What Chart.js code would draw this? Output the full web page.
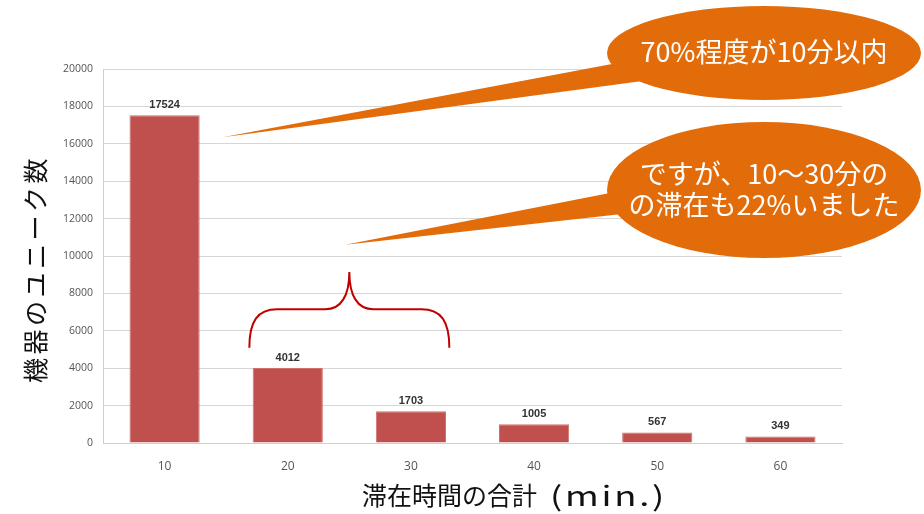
<!DOCTYPE html>
<html>
<head>
<meta charset="utf-8">
<script src="https://cdn.jsdelivr.net/npm/chart.js@4"></script>
<style>
  body { margin: 0; background: #fff; }
</style>
</head>
<body>
<canvas id="myChart" width="924" height="514"></canvas>
<script>
// data
var minutes = ["10", "20", "30", "40", "50", "60"];
var device_counts = [17524, 4012, 1703, 1005, 567, 349];
var y_ticks = [0, 2000, 4000, 6000, 8000, 10000, 12000, 14000, 16000, 18000, 20000];

var y_title = "機器のユニーク数";
var x_title = ["滞在時間の合計", "(min.)"];
var note_top = ["70%程度が10分以内"];
var note_mid = ["ですが、10～30分の", "の滞在も22%いました"];

var jp_font = "'Noto Sans CJK JP', 'Noto Sans', sans-serif";
var orange = "#E36C0A";

// numbers above the bars
var barLabels = {
  id: "barLabels",
  afterDatasetsDraw: function (chart) {
    var ctx = chart.ctx;
    var meta = chart.getDatasetMeta(0);
    ctx.save();
    ctx.font = "bold 11px 'Liberation Sans', Arial, sans-serif";
    ctx.fillStyle = "#333";
    ctx.textAlign = "center";
    ctx.textBaseline = "alphabetic";
    meta.data.forEach(function (bar, i) {
      ctx.fillText(device_counts[i], bar.x, bar.y - 7);
    });
    ctx.restore();
  },
};

// the big axis titles
var axisTitles = {
  id: "axisTitles",
  afterDraw: function (chart) {
    var ctx = chart.ctx;
    ctx.save();
    ctx.fillStyle = "#111";
    ctx.textAlign = "center";
    ctx.textBaseline = "middle";
    ctx.font = "25px " + jp_font;
    ctx.letterSpacing = "3.5px";
    ctx.translate(35, 269);
    ctx.rotate(-Math.PI / 2);
    ctx.fillText(y_title, 0, 0);
    ctx.restore();

    // x title: japanese part then the unit, whose latin is set wide
    ctx.save();
    ctx.fillStyle = "#111";
    ctx.textAlign = "left";
    ctx.textBaseline = "middle";
    ctx.font = "25px " + jp_font;
    ctx.fillText(x_title[0], 362, 495);
    ctx.font = "27px " + jp_font;
    ctx.letterSpacing = "2px";
    ctx.translate(550, 496);
    ctx.scale(1.35, 1);
    ctx.fillText(x_title[1], 0, 0);
    ctx.restore();
  },
};

function bubble(ctx, cx, cy, rx, ry, b1, b2, tip, lines, size) {
  ctx.save();
  ctx.fillStyle = orange;
  ctx.beginPath();
  ctx.ellipse(cx, cy, rx, ry, 0, 0, Math.PI * 2);
  ctx.fill();
  ctx.beginPath();
  ctx.moveTo(b1[0], b1[1]);
  ctx.lineTo(tip[0], tip[1]);
  ctx.lineTo(b2[0], b2[1]);
  ctx.closePath();
  ctx.fill();
  ctx.fillStyle = "#fff";
  ctx.font = size + "px " + jp_font;
  ctx.textAlign = "center";
  ctx.textBaseline = "middle";
  var lh = 31;
  var y0 = cy - 1 - (lines.length - 1) * lh / 2;
  lines.forEach(function (t, i) {
    ctx.fillText(t, cx, y0 + i * lh);
  });
  ctx.restore();
}

// callouts and brace
var notes = {
  id: "notes",
  afterDraw: function (chart) {
    var ctx = chart.ctx;
    var xs = chart.scales.x;
    var ys = chart.scales.y;

    // brace over 20 and 30
    var x20 = xs.getPixelForValue(1);
    var x30 = xs.getPixelForValue(2);
    var mid = (x20 + x30) / 2;
    var yEnd = ys.getPixelForValue(5100);
    var yBar = ys.getPixelForValue(7150);
    var yPeak = ys.getPixelForValue(9150);
    ctx.save();
    ctx.strokeStyle = "#C00000";
    ctx.lineWidth = 2;
    ctx.beginPath();
    ctx.moveTo(mid - 100, yEnd);
    ctx.bezierCurveTo(mid - 100, yBar + 12, mid - 92, yBar, mid - 72, yBar);
    ctx.lineTo(mid - 24, yBar);
    ctx.bezierCurveTo(mid - 8, yBar, mid, yBar - 14, mid, yPeak);
    ctx.bezierCurveTo(mid, yBar - 14, mid + 8, yBar, mid + 24, yBar);
    ctx.lineTo(mid + 72, yBar);
    ctx.bezierCurveTo(mid + 92, yBar, mid + 100, yBar + 12, mid + 100, yEnd);
    ctx.stroke();
    ctx.restore();

    var bar0 = chart.getDatasetMeta(0).data[0];
    var tip1 = [bar0.x + bar0.width / 2 + 23, ys.getPixelForValue(16350)];
    bubble(ctx, 764, 53, 157, 47, [612, 64], [650, 80], tip1, note_top, 27);

    var tip2 = [mid - 4, ys.getPixelForValue(10600)];
    bubble(ctx, 764, 190, 157, 68, [615, 192], [640, 212], tip2, note_mid, 27);
  },
};

var ctx = document.getElementById("myChart");
var myChart = new Chart(ctx, {
  type: "bar",
  data: {
    labels: minutes,
    datasets: [
      {
        data: device_counts,
        backgroundColor: "#C0504D",
        borderColor: "#D0716E",
        borderWidth: 1,
        barPercentage: 0.57,
        categoryPercentage: 1,
      },
    ],
  },
  options: {
    responsive: false,
    animation: false,
    layout: { padding: { top: 69, right: 82, left: 0, bottom: 0 } },
    plugins: {
      legend: { display: false },
      tooltip: { enabled: false },
    },
    scales: {
      x: {
        afterFit: function (s) { s.height = 71; },
        grid: { display: false },
        border: { color: "#cfcfcf" },
        ticks: {
          color: "#555",
          padding: 8,
          font: { family: "'Open Sans', sans-serif", size: 12 },
        },
      },
      y: {
        min: 0,
        max: 20000,
        afterFit: function (s) { s.width = 103; },
        afterBuildTicks: function (s) {
          s.ticks = y_ticks.map(function (v) { return { value: v }; });
        },
        grid: { color: "#d6d6d6", drawTicks: false },
        border: { color: "#cfcfcf" },
        ticks: {
          color: "#555",
          padding: 10,
          font: { family: "'Open Sans', sans-serif", size: 10.5 },
          callback: function (v) { return String(v); },
        },
      },
    },
  },
  plugins: [barLabels, axisTitles, notes],
});
</script>
</body>
</html>
